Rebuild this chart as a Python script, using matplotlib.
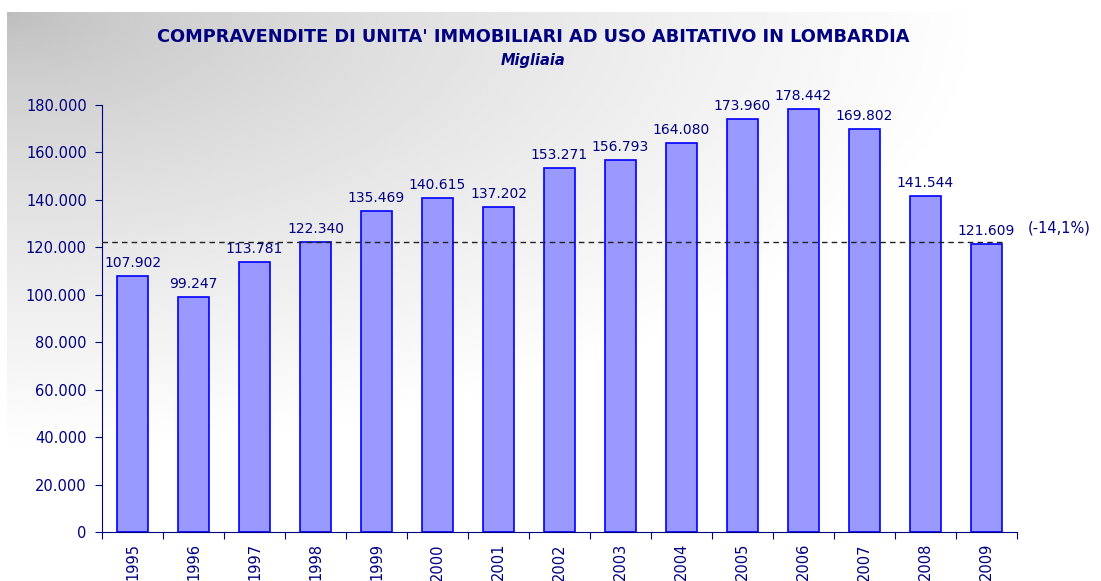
import numpy as np
import matplotlib.pyplot as plt

# dati: compravendite in Lombardia
anni = ['1995', '1996', '1997', '1998', '1999', '2000', '2001', '2002',
        '2003', '2004', '2005', '2006', '2007', '2008', '2009']
valori = [107902, 99247, 113781, 122340, 135469, 140615, 137202, 153271,
          156793, 164080, 173960, 178442, 169802, 141544, 121609]
etichette = ['107.902', '99.247', '113.781', '122.340', '135.469', '140.615', '137.202',
             '153.271', '156.793', '164.080', '173.960', '178.442', '169.802', '141.544', '121.609']
riferimento = 122340  # livello 1998
variazione = '(-14,1%)'

navy = '#000080'

fig = plt.figure(figsize=(11.01, 5.81), dpi=100)

# sfondo sfumato
bg = fig.add_axes([7 / 1101, 14 / 581, 1 - 7 / 1101, 1 - 26 / 581])
h, w = 200, 400
yy, xx = np.mgrid[0:1:h * 1j, 0:1:w * 1j]
t = np.clip(np.sqrt((xx / 0.9) ** 2 + (yy / 0.8) ** 2), 0, 1)
grey = 0.74 + 0.26 * t ** 0.7
bg.imshow(grey, cmap='gray', vmin=0, vmax=1, aspect='auto', extent=[0, 1, 0, 1], origin='upper')
bg.axis('off')

ax = fig.add_axes([102 / 1101, 1 - 532 / 581, 915 / 1101, 427 / 581])
ax.patch.set_alpha(0)
x = np.arange(len(anni))
ax.bar(x, valori, width=0.5, color='#9999ff', edgecolor='#0000ff', linewidth=1.2, zorder=2)

for xi, v, lab in zip(x, valori, etichette):
    ax.text(xi, v + 2500, lab, ha='center', va='bottom', fontsize=10, color=navy)

ax.plot([-0.5, 14.3], [riferimento, riferimento], linestyle=(0, (4, 3)), color='#222222',
        linewidth=1, zorder=3, clip_on=False)
ax.text(14.68, riferimento + 2500, variazione, ha='left', va='bottom', fontsize=10.5, color=navy)

ax.set_xlim(-0.5, 14.5)
ax.set_ylim(0, 180000)
ax.set_yticks(np.arange(0, 180001, 20000))
ax.set_yticklabels(['0' if v == 0 else f'{v // 1000}.000' for v in range(0, 180001, 20000)])
ax.set_xticks(np.arange(-0.5, 15, 1))
ax.set_xticklabels([])
ax.set_xticks(x, minor=True)
ax.set_xticklabels(anni, minor=True, rotation=90, va='top')
ax.tick_params(axis='x', which='minor', length=0, pad=8, labelsize=10.5, labelcolor=navy)
ax.tick_params(axis='x', which='major', length=5, color=navy, direction='out')
ax.tick_params(axis='y', length=5, color=navy, labelsize=10.5, labelcolor=navy, pad=6)
for s in ['top', 'right']:
    ax.spines[s].set_visible(False)
for s in ['left', 'bottom']:
    ax.spines[s].set_color(navy)

fig.text(533 / 1101, 1 - 37 / 581, "COMPRAVENDITE DI UNITA' IMMOBILIARI AD USO ABITATIVO IN LOMBARDIA",
         ha='center', va='center', fontsize=12.8, fontweight='bold', color=navy)
fig.text(533 / 1101, 1 - 60 / 581, 'Migliaia', ha='center', va='center', fontsize=10.5,
         fontweight='bold', fontstyle='italic', color=navy)

fig.savefig('out.png', dpi=100)
